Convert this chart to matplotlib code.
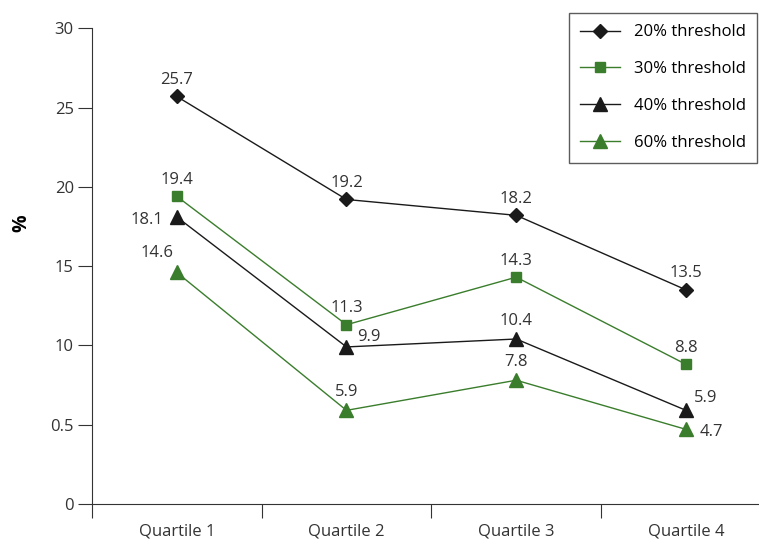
import matplotlib.pyplot as plt

plt.rcParams['font.family'] = ['Open Sans', 'DejaVu Sans']

categories = ['Quartile 1', 'Quartile 2', 'Quartile 3', 'Quartile 4']
t20 = [25.7, 19.2, 18.2, 13.5]
t30 = [19.4, 11.3, 14.3, 8.8]
t40 = [18.1, 9.9, 10.4, 5.9]
t60 = [14.6, 5.9, 7.8, 4.7]
ytick_vals = [0, 5, 10, 15, 20, 25, 30]
ytick_labels = ['0', '0.5', '10', '15', '20', '25', '30']

black = '#1a1a1a'
green = '#3a7d2c'

fig = plt.figure(figsize=(7.59, 5.43), dpi=100)
ax = fig.add_axes([0.121, 0.072, 0.879, 0.876])
x = list(range(len(categories)))

ax.plot(x, t20, color=black, lw=1, marker='D', ms=7, label='20% threshold')
ax.plot(x, t30, color=green, lw=1, marker='s', ms=7, label='30% threshold')
ax.plot(x, t40, color=black, lw=1, marker='^', ms=10, label='40% threshold')
ax.plot(x, t60, color=green, lw=1, marker='^', ms=10, label='60% threshold')

fs = 12
# labels above
for i in range(4):
    ax.annotate(f'{t20[i]}', (i, t20[i]), xytext=(0, 9), textcoords='offset points', ha='center', fontsize=fs, color='#333333')
    ax.annotate(f'{t30[i]}', (i, t30[i]), xytext=(0, 9), textcoords='offset points', ha='center', fontsize=fs, color='#333333')
# 40% labels
offs40 = [(-10, -5, 'right'), (8, 4, 'left'), (0, 10, 'center'), (6, 6, 'left')]
for i, (dx, dy, ha) in enumerate(offs40):
    ax.annotate(f'{t40[i]}', (i, t40[i]), xytext=(dx, dy), textcoords='offset points', ha=ha, fontsize=fs, color='#333333')
offs60 = [(-2, 11, 'right'), (0, 10, 'center'), (0, 10, 'center'), (10, -5, 'left')]
for i, (dx, dy, ha) in enumerate(offs60):
    ax.annotate(f'{t60[i]}', (i, t60[i]), xytext=(dx, dy), textcoords='offset points', ha=ha, fontsize=fs, color='#333333')

ax.set_xlim(-0.5, 3.43)
ax.set_ylim(0, 30)
ax.set_xticks([-0.5, 0.5, 1.5, 2.5])
ax.set_xticklabels([])
ax.set_xticks(x, minor=True)
ax.set_xticklabels(categories, minor=True, fontsize=fs, color='#333333')
ax.tick_params(axis='x', which='minor', length=0, pad=14)
ax.tick_params(axis='x', which='major', length=10, color='#333333')
ax.set_yticks(ytick_vals)
ax.set_yticklabels(ytick_labels, fontsize=fs, color='#333333')
ax.tick_params(axis='y', length=10, color='#333333', pad=3)
for s in ['top', 'right']:
    ax.spines[s].set_visible(False)
for s in ['left', 'bottom']:
    ax.spines[s].set_color('#333333')
ax.set_ylabel('%', fontsize=14, fontweight='bold', va='center')
ax.yaxis.set_label_coords(-0.105, 0.59)

leg = ax.legend(loc='upper right', bbox_to_anchor=(1.01, 1.05), fontsize=fs, frameon=True,
                fancybox=False, edgecolor='#333333', handlelength=2.4, borderpad=0.7,
                labelspacing=1.25)
leg.get_frame().set_linewidth(1)

fig.savefig('out.png', dpi=100)
